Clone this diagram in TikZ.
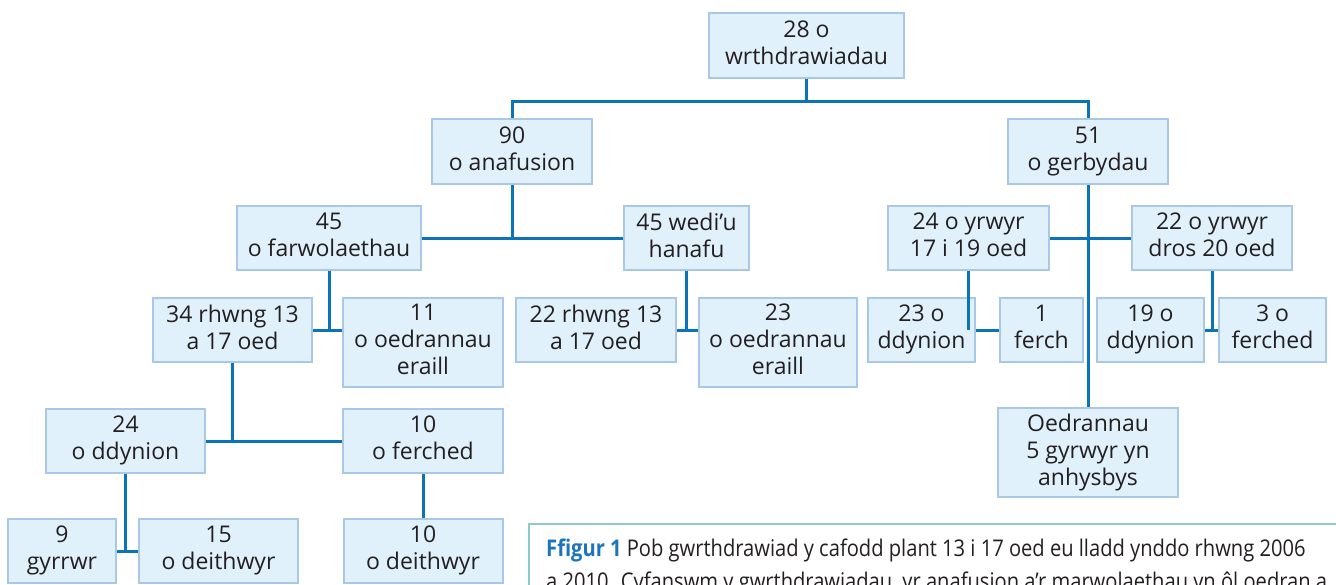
\documentclass[tikz,border=0pt]{standalone}
\usepackage{fontspec}
\setmainfont{Open Sans}
\newfontfamily\capfont[FakeStretch=0.875]{Open Sans}
\newcommand\boxstrut{\rule[-6pt]{0pt}{27pt}}
\definecolor{boxfill}{HTML}{E1F1FB}
\definecolor{boxline}{HTML}{A9C8E6}
\definecolor{conn}{HTML}{0B73BA}
\definecolor{txt}{HTML}{231F20}
\definecolor{capline}{HTML}{8FCACB}
\definecolor{capblue}{HTML}{1C75BC}
\tikzset{
  nbox/.style={draw=boxline, line width=2pt, fill=boxfill, align=center, inner sep=0pt,
    text=txt, font=\fontsize{23}{27}\selectfont,
    execute at begin node=\boxstrut, execute at end node=\boxstrut},
  conn/.style={draw=conn, line width=3pt},
  captext/.style={anchor=base west, inner sep=0pt, text=txt, font=\capfont\fontsize{23}{30}\selectfont},
}
\begin{document}
\begin{tikzpicture}[x=1pt,y=-1pt]
\useasboundingbox (0,0) rectangle (1336,584);
\clip (0,0) rectangle (1336,584);
% nodes
\node[nbox, minimum width=195pt, minimum height=65pt] (A) at (806.5,45.5) {28 o\\wrthdrawiadau};
\node[nbox, minimum width=160pt, minimum height=65pt] (B) at (512,151.5) {90\\o anafusion};
\node[nbox, minimum width=160pt, minimum height=65pt] (C) at (1088,151.5) {51\\o gerbydau};
\node[nbox, minimum width=184pt, minimum height=64pt] (D) at (329,238) {45\\o farwolaethau};
\node[nbox, minimum width=125pt, minimum height=64pt] (E) at (686.5,238) {45 wedi’u\\hanafu};
\node[nbox, minimum width=159pt, minimum height=64pt] (F) at (232.5,330) {34 rhwng 13\\a 17 oed};
\node[nbox, minimum width=160pt, minimum height=89pt] (G) at (423,342.5) {11\\o oedrannau\\eraill};
\node[nbox, minimum width=160pt, minimum height=64pt] (H) at (596,330) {22 rhwng 13\\a 17 oed};
\node[nbox, minimum width=158pt, minimum height=89pt] (I) at (778,342.5) {23\\o oedrannau\\eraill};
\node[nbox, minimum width=159pt, minimum height=64pt] (J) at (125.5,441) {24\\o ddynion};
\node[nbox, minimum width=160pt, minimum height=64pt] (K) at (423,441) {10\\o ferched};
\node[nbox, minimum width=108pt, minimum height=64pt] (L) at (62,551) {9\\gyrrwr};
\node[nbox, minimum width=159pt, minimum height=64pt] (M) at (218.5,551) {15\\o deithwyr};
\node[nbox, minimum width=159pt, minimum height=64pt] (N) at (423,551) {10\\o deithwyr};
\node[nbox, minimum width=161pt, minimum height=64pt] (O1) at (968.5,238) {24 o yrwyr\\17 i 19 oed};
\node[nbox, minimum width=160pt, minimum height=64pt] (O2) at (1212,238) {22 o yrwyr\\dros 20 oed};
\node[nbox, minimum width=107pt, minimum height=64pt] (Q1) at (921.5,330) {23 o\\ddynion};
\node[nbox, minimum width=83pt, minimum height=64pt] (Q2) at (1041.5,330) {1\\ferch};
\node[nbox, minimum width=107pt, minimum height=64pt] (R1) at (1150.5,330) {19 o\\ddynion};
\node[nbox, minimum width=107pt, minimum height=64pt] (R2) at (1272.5,330) {3 o\\ferched};
\node[nbox, minimum width=180pt, minimum height=89pt] (P) at (1088,452.5) {Oedrannau\\5 gyrwyr yn\\anhysbys};
% connectors
\draw[conn] (A.south) -- ++(0,22) coordinate (aj);
\draw[conn] (B.north) |- (aj) -| (C.north);
\draw[conn] (B.south) -- (B.south |- D.east);
\draw[conn] (D.east) -- (E.west);
\draw[conn] (D.south) -- (D.south |- F.east);
\draw[conn] (F.east) -- (F.east -| G.west);
\draw[conn] (E.south) -- (E.south |- H.east);
\draw[conn] (H.east) -- (H.east -| I.west);
\draw[conn] (F.south) -- (F.south |- J.east);
\draw[conn] (J.east) -- (K.west);
\draw[conn] (J.south) -- (J.south |- L.east);
\draw[conn] (L.east) -- (M.west);
\draw[conn] (K.south) -- (N.north);
\draw[conn] (C.south) -- (P.north);
\draw[conn] (O1.east) -- (O2.west);
\draw[conn] (O1.south) -- (O1.south |- Q1.east);
\draw[conn] (Q1.east) -- (Q2.west);
\draw[conn] (O2.south) -- (O2.south |- R1.east);
\draw[conn] (R1.east) -- (R2.west);
% caption
\node[draw=capline, line width=2pt, fill=white, minimum width=820pt, minimum height=100pt, anchor=north west, inner sep=0pt] (cap) at (528,523) {};
\node[captext] (capt1) at (546,556)
  {{\bfseries\color{capblue}Ffigur 1} Pob gwrthdrawiad y cafodd plant 13 i 17 oed eu lladd ynddo rhwng 2006};
\node[captext] (capt2) at (546,589)
  {a 2010. Cyfanswm y gwrthdrawiadau, yr anafusion a’r marwolaethau yn ôl oedran a};
\end{tikzpicture}
\end{document}
